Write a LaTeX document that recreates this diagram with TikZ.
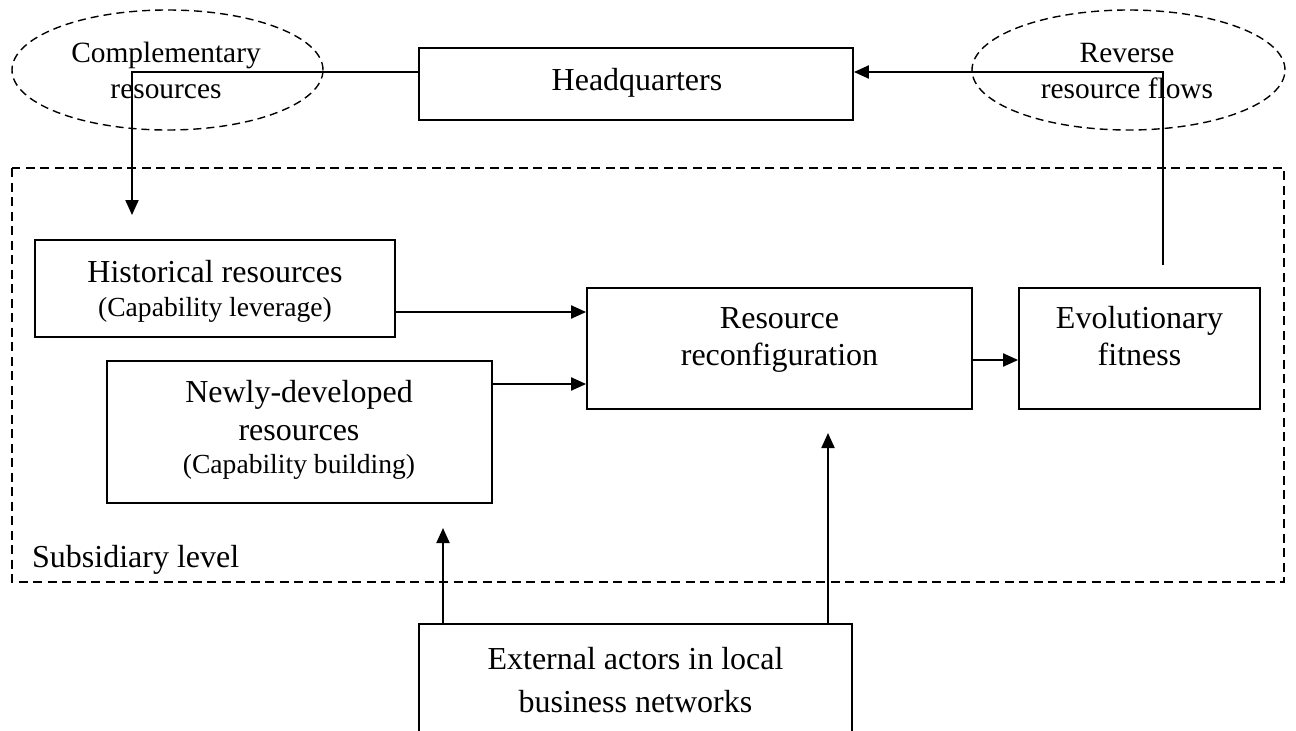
\documentclass[tikz,border=0pt]{standalone}
\usepackage{fontspec}
\setmainfont{Liberation Serif}
\usetikzlibrary{arrows.meta,shapes.geometric,calc}
\tikzset{
  box/.style={draw, line width=1.8pt, inner sep=0pt},
  oval/.style={draw, ellipse, line width=1.4pt, dash pattern=on 8pt off 5pt, inner sep=0pt},
  frame/.style={draw, line width=1.5pt, dash pattern=on 9pt off 5.5pt},
  conn/.style={line width=2pt},
  arr/.style={conn, -{Triangle[length=15pt,width=13pt]}},
  lbl/.style={inner sep=0pt, align=center, anchor=base},
}
\newcommand{\bigsz}[1]{\fontsize{32}{#1}\selectfont}
\newcommand{\smallsz}{\fontsize{27.6}{33}\selectfont}
\newcommand{\ovalsz}{\fontsize{29.4}{35.5}\selectfont}
\begin{document}
\begin{tikzpicture}[x=1pt,y=-1pt]
\useasboundingbox (0,0) rectangle (1296,731);
% subsidiary frame
\draw[frame] (12,168) rectangle (1284,582);
\node[lbl, anchor=base west, font=\bigsz{36}] (sublbl) at (32,567) {Subsidiary level};
% ellipses
\node[oval, minimum width=311pt, minimum height=120pt] (comp) at (167.5,70) {};
\node[lbl, font=\ovalsz] (comptxt) at (166,98) {Complementary\\resources};
\node[oval, minimum width=313pt, minimum height=120pt] (rev) at (1128.5,70) {};
\node[lbl, font=\ovalsz] (revtxt) at (1127,98) {Reverse\\resource flows};
% boxes
\node[box, minimum width=434pt, minimum height=72pt] (hq) at (636,84) {};
\node[lbl, font=\bigsz{36}] (hqtxt) at (637,90) {Headquarters};
\node[box, minimum width=360pt, minimum height=97pt] (hist) at (215,288.5) {};
\node[lbl, font=\bigsz{34}] (histtxt) at (215,316) {Historical resources\\{\smallsz (Capability leverage)}};
\node[box, minimum width=385pt, minimum height=142pt] (newly) at (299.5,432) {};
\node[lbl, font=\bigsz{38}] (newlytxt) at (299,473) {Newly-developed\\resources\\[-5pt]{\smallsz (Capability building)}};
\node[box, minimum width=385pt, minimum height=121pt] (recon) at (779.5,348.5) {};
\node[lbl, font=\bigsz{37}] (recontxt) at (779.5,365) {Resource\\reconfiguration};
\node[box, minimum width=241pt, minimum height=121pt] (evol) at (1139.5,348.5) {};
\node[lbl, font=\bigsz{37}] (evoltxt) at (1139.5,365) {Evolutionary\\fitness};
% external actors (open at bottom)
\coordinate (extbl) at (419,731);
\coordinate (exttl) at (419,624);
\coordinate (exttr) at (852,624);
\coordinate (extbr) at (852,731);
\draw[box] (extbl) -- (exttl) -- (exttr) -- (extbr);
\node[lbl, font=\bigsz{43}] (ext) at (635.5,712) {External actors in local\\business networks};
% connectors
\coordinate (c1) at (132,72);
\coordinate (c1end) at (132,215);
\draw[arr] (hq.west |- c1) -- (c1) -- (c1end);
\coordinate (r1) at (1163,72);
\coordinate (r0) at (1163,265);
\draw[arr] (r0) -- (r1) -- (hq.east |- r1);
\coordinate (y1) at (0,312);
\coordinate (y2) at (0,384);
\coordinate (y3) at (0,360);
\draw[arr] (hist.east |- y1) -- (recon.west |- y1);
\draw[arr] (newly.east |- y2) -- (recon.west |- y2);
\draw[arr] (recon.east |- y3) -- (evol.west |- y3);
\coordinate (u1) at (443,528);
\coordinate (u2) at (828,433);
\draw[arr] (exttl -| u1) -- (u1);
\draw[arr] (exttl -| u2) -- (u2);
\end{tikzpicture}
\end{document}
